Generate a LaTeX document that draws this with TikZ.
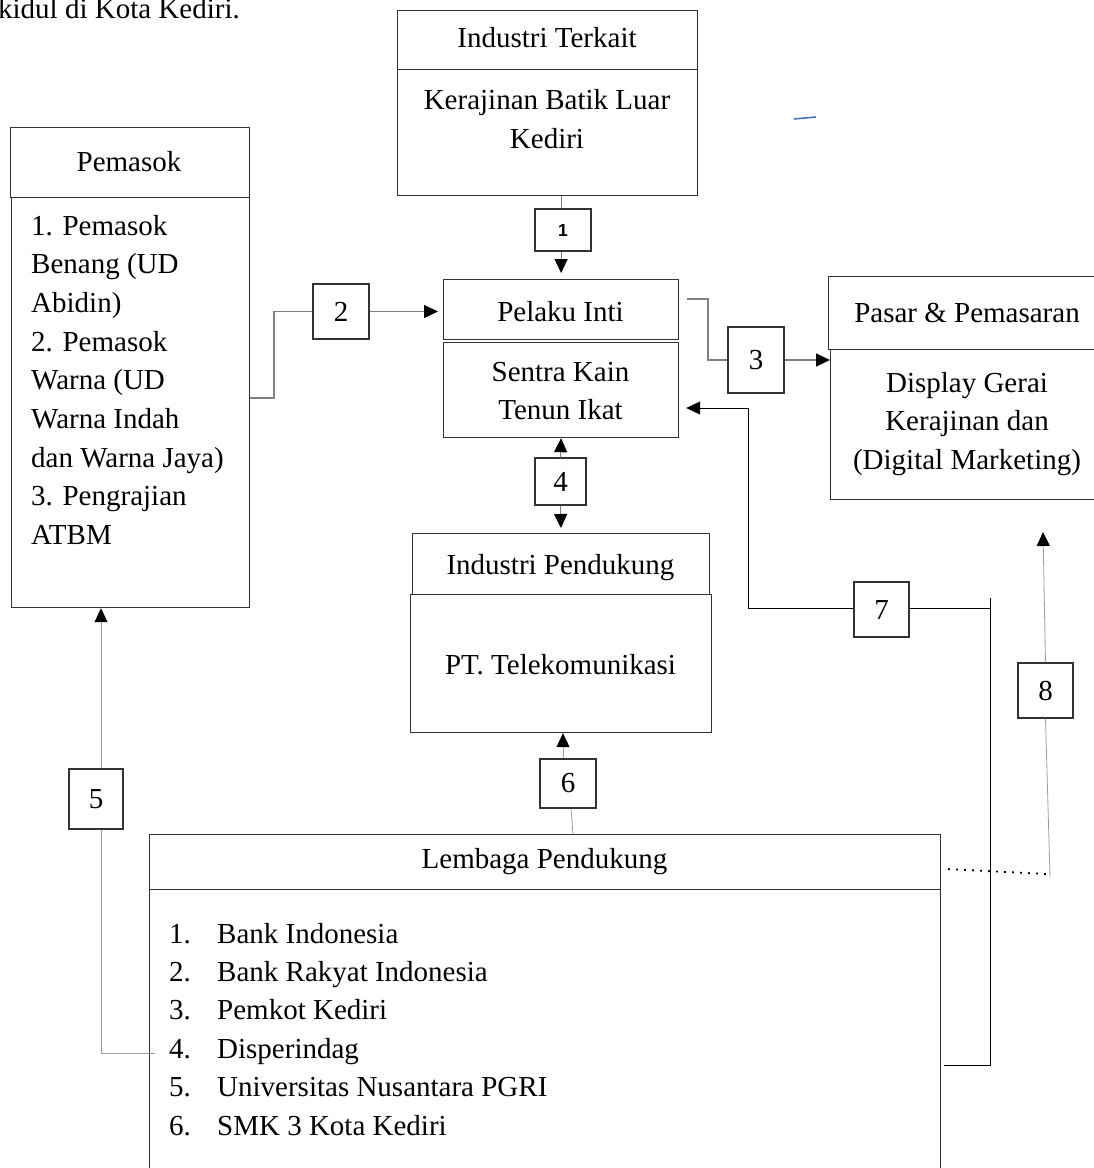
\documentclass[tikz,border=0pt]{standalone}
\usepackage{fontspec}
\setmainfont{Liberation Serif}
\newfontfamily\labsans{Liberation Sans}
\usetikzlibrary{arrows.meta,calc}
\definecolor{wordblue}{RGB}{68,114,196}
\begin{document}
\begin{tikzpicture}[x=1pt,y=-1pt,
  every node/.style={font=\fontsize{29}{38.7}\selectfont, inner sep=0pt},
  boxs/.style={draw=black!80, line width=1.2pt, anchor=north west},
  txt/.style={align=center},
  numbox/.style={draw=black!80, line width=1.1pt, anchor=center},
  arrowend/.style={-{Triangle[length=14pt,width=13pt,color=black]}},
  gline/.style={draw=black!50, line width=1.1pt},
  lline/.style={draw=black!38, line width=0.8pt},
  bline/.style={draw=black, line width=0.9pt},
]
\fill[white] (0,0) rectangle (1093,1168);
\useasboundingbox (0,0) rectangle (1093,1168);

% intro text (cut off at the page edge, as in the reference)
\node[anchor=base east] (intro) at (240,18.5) {kidul di Kota Kediri.};

% blue stroke
\draw[wordblue, line width=1.6pt] (794,119) -- (816,117);

% Industri Terkait
\node[boxs, minimum width=300pt, minimum height=59pt] (it1) at (397,10) {};
\node (it1t) at (547,38) {Industri Terkait};
\node[boxs, minimum width=300pt, minimum height=126pt] (it2) at (397,69) {};
\node[txt] (it2t) at (547,119) {Kerajinan Batik Luar\\Kediri};

% Pemasok
\node[boxs, minimum width=239pt, minimum height=70pt] (pm1) at (10,127) {};
\node (pm1t) at (129,162) {Pemasok};
\node[boxs, minimum width=238pt, minimum height=410pt] (pm2) at (11,197) {};
\foreach \t [count=\i from 0] in {1. Pemasok, Benang (UD, Abidin), 2. Pemasok, Warna (UD, Warna Indah, dan Warna Jaya), 3. Pengrajian, ATBM}
  \node[anchor=base west] (pml\i) at (31,235+\i*38.7) {\t};

% Pelaku inti / Sentra
\node[boxs, minimum width=235pt, minimum height=60pt] (pi) at (443,279) {};
\node (pit) at (560.5,312) {Pelaku Inti};
\node[boxs, minimum width=235pt, minimum height=95pt] (sk) at (443,342) {};
\node[txt] (skt) at (560.5,391) {Sentra Kain\\Tenun Ikat};

% Pasar & Pemasaran
\node[boxs, minimum width=270pt, minimum height=73pt] (pp1) at (828,276) {};
\node (pp1t) at (967,313) {Pasar \& Pemasaran};
\node[boxs, minimum width=270pt, minimum height=150pt] (pp2) at (830,349) {};
\node[txt] (pp2t) at (967,424) {Display Gerai\\Kerajinan dan\\(Digital Marketing)};

% Industri Pendukung
\node[boxs, minimum width=297pt, minimum height=61pt] (ip1) at (412,533) {};
\node (ip1t) at (560.5,568) {Industri Pendukung};
\node[boxs, minimum width=301pt, minimum height=138pt] (ip2) at (410,594) {};
\node (ip2t) at (560.5,665) {PT. Telekomunikasi};

% Lembaga Pendukung
\node[boxs, minimum width=791pt, minimum height=55pt] (lp1) at (149,834) {};
\node (lp1t) at (544.5,862) {Lembaga Pendukung};
\node[boxs, minimum width=791pt, minimum height=345pt] (lp2) at (149,889) {};
\foreach \t [count=\i] in {Bank Indonesia, Bank Rakyat Indonesia, Pemkot Kediri, Disperindag, Universitas Nusantara PGRI, SMK 3 Kota Kediri} {
  \node[anchor=base west] (ln\i) at (169,943+\i*38.4-38.4) {\i.};
  \node[anchor=base west] (lt\i) at (217,943+\i*38.4-38.4) {\t};
}

% number boxes
\node[numbox, minimum width=56pt, minimum height=42pt] (b1) at (563,230) {\labsans\bfseries\fontsize{17.5}{19}\selectfont 1};
\node[numbox, minimum width=56pt, minimum height=55pt] (b2) at (341,311.5) {2};
\node[numbox, minimum width=56pt, minimum height=66pt] (b3) at (756,360) {3};
\node[numbox, minimum width=51pt, minimum height=47pt] (b4) at (560.5,481.5) {4};
\node[numbox, minimum width=54pt, minimum height=60pt] (b5) at (96,799) {5};
\node[numbox, minimum width=56pt, minimum height=49pt] (b6) at (568,783.5) {6};
\node[numbox, minimum width=55pt, minimum height=55pt] (b7) at (881.5,609.5) {7};
\node[numbox, minimum width=55pt, minimum height=55pt] (b8) at (1045.5,690.5) {8};

% connector 1
\draw[gline] (it2.south -| pi.north) -- (b1.north -| pi.north);
\draw[gline, arrowend, shorten >=6pt] (b1.south -| pi.north) -- (pi.north);

% connector 2
\coordinate (c2) at (274,398);
\draw[gline] (pm2.east |- c2) -- (c2) |- (b2.west);
\draw[gline, arrowend, shorten >=5pt] (b2.east) -- (b2.east -| pi.west);

% connector 3
\coordinate (c3a) at (687,299);
\coordinate (c3b) at (708,299);
\draw[gline] (c3a) -- (c3b) |- (b3.west);
\draw[gline, arrowend] (b3.east) -- (b3.east -| pp2.west);

% connector 4
\draw[gline, arrowend] (b4.north) -- (sk.south);
\draw[gline, arrowend, shorten >=5pt] (b4.south) -- (ip1.north);

% connector 5
\draw[lline, arrowend] ([xshift=5pt]b5.north) -- ([xshift=5pt]b5.north |- pm2.south);
\coordinate (c5) at (101,1053);
\draw[lline, shorten >=14pt] ([xshift=5pt]b5.south) -- (c5) -- (c5 -| ln4.west);

% connector 6
\draw[lline] ([xshift=5pt]b6.south |- lp1.north) -- ([xshift=3pt]b6.south);
\draw[lline, arrowend] ([xshift=-5pt]b6.north) -- ([xshift=-5pt]b6.north |- ip2.south);

% connector 7
\coordinate (c7a) at (748,608);
\coordinate (c7b) at (748,408);
\draw[bline, arrowend, shorten >=7pt] (b7.west |- c7a) -- (c7a) -- (c7b) -- (c7b -| sk.east);
\coordinate (v7t) at (990,598);
\coordinate (v7b) at (990,1065);
\draw[bline] (b7.east |- c7a) -- (c7a -| v7t);
\draw[bline] (v7t) -- (v7b) -- ([xshift=3pt]v7b -| lp2.east);

% connector 8
\coordinate (a8) at (1043,532);
\draw[lline, arrowend] (b8.north) -- (a8);
\coordinate (c8) at (1050,877);
\draw[lline] (b8.south) -- (c8);
\draw[black, line width=1.8pt, dash pattern=on 1.8pt off 6.2pt] ($(lp1.east)+(7,7)$) -- ($(c8)+(-4,-3)$);
\end{tikzpicture}
\end{document}
